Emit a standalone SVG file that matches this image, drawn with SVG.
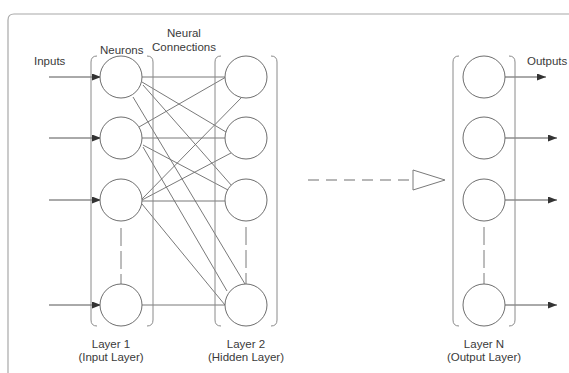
<svg xmlns="http://www.w3.org/2000/svg" width="569" height="373" viewBox="0 0 569 373">
<style>
.neuron{fill:#fff;stroke:#6e6e6e;stroke-width:1}
.bracket{fill:none;stroke:#8a8a8a;stroke-width:1}
.conn{stroke:#6a6a6a;stroke-width:0.9;fill:none}
.dash{stroke:#7a7a7a;stroke-width:1;stroke-dasharray:18 5;fill:none}
.arrow{stroke:#555;stroke-width:1;fill:none;marker-end:url(#ah)}
.lbl{font-family:"Liberation Sans",Arial,sans-serif;font-size:11.5px;fill:#3a3a3a}
.mid{text-anchor:middle}
</style>
<defs>
<marker id="ah" markerUnits="userSpaceOnUse" markerWidth="9" markerHeight="7" refX="9" refY="3.5" orient="auto">
<path d="M0,0 L9,3.5 L0,7 z" fill="#333"/>
</marker>
</defs>
<rect width="569" height="373" fill="#fff"/>
<path id="frame" d="M8,373 V20 Q8,14 14,14 H569" fill="none" stroke="#a8a8a8" stroke-width="1.2"/>

<g id="connectors">
<line class="conn" x1="142" y1="77" x2="225" y2="77"/>
<line class="conn" x1="142" y1="82" x2="226" y2="132"/>
<line class="conn" x1="143" y1="85" x2="232" y2="186"/>
<line class="conn" x1="133" y1="97" x2="245" y2="284"/>
<line class="conn" x1="139" y1="127" x2="226" y2="77"/>
<line class="conn" x1="142" y1="138" x2="225" y2="138"/>
<line class="conn" x1="143" y1="145" x2="228" y2="190"/>
<line class="conn" x1="143" y1="147" x2="227" y2="291"/>
<line class="conn" x1="142" y1="199" x2="242" y2="97"/>
<line class="conn" x1="142" y1="200" x2="231" y2="153"/>
<line class="conn" x1="142" y1="201" x2="225" y2="201"/>
<line class="conn" x1="142" y1="204" x2="225" y2="305"/>
<line class="conn" x1="142" y1="305" x2="225" y2="305"/>
<line class="arrow" x1="49" y1="77" x2="101" y2="77"/>
<line class="arrow" x1="49" y1="138" x2="101" y2="138"/>
<line class="arrow" x1="49" y1="200" x2="101" y2="200"/>
<line class="arrow" x1="49" y1="305" x2="101" y2="305"/>
<line class="arrow" x1="505" y1="77" x2="546" y2="77"/>
<line class="arrow" x1="505" y1="138" x2="557" y2="138"/>
<line class="arrow" x1="505" y1="200" x2="557" y2="200"/>
<line class="arrow" x1="505" y1="305" x2="557" y2="305"/>
<line x1="308" y1="180" x2="413" y2="180" stroke="#a0a0a0" stroke-width="1.5" stroke-dasharray="11 7"/>
<path d="M413,170 L445,180 L413,190 Z" fill="#fff" stroke="#7a7a7a" stroke-width="1" stroke-linejoin="round"/>
</g>

<g id="layer1">
<path class="bracket" d="M97,56 Q91,56 91,62 V320 Q91,326 97,326 M147,56 Q153,56 153,62 V320 Q153,326 147,326"/>
<line class="dash" x1="121" y1="221" x2="121" y2="284" stroke-dashoffset="-1" style="stroke-dasharray:0 6 18 5 18 5 18"/>
<circle class="neuron" cx="121" cy="77" r="21"/>
<circle class="neuron" cx="121" cy="138" r="21"/>
<circle class="neuron" cx="121" cy="200" r="21"/>
<circle class="neuron" cx="121" cy="305" r="21"/>
<text class="lbl mid" x="111" y="348">Layer 1</text>
<text class="lbl mid" x="111" y="361">(Input Layer)</text>
</g>

<g id="layer2">
<path class="bracket" d="M221,56 Q215,56 215,62 V320 Q215,326 221,326 M271,56 Q277,56 277,62 V320 Q277,326 271,326"/>
<line class="dash" x1="246" y1="221" x2="246" y2="284" style="stroke-dasharray:0 6 18 5 18 5 18"/>
<circle class="neuron" cx="246" cy="77" r="21"/>
<circle class="neuron" cx="246" cy="138" r="21"/>
<circle class="neuron" cx="246" cy="200" r="21"/>
<circle class="neuron" cx="246" cy="305" r="21"/>
<text class="lbl mid" x="246" y="348">Layer 2</text>
<text class="lbl mid" x="246" y="361">(Hidden Layer)</text>
</g>

<g id="layerN">
<path class="bracket" d="M459,56 Q453,56 453,62 V320 Q453,326 459,326 M509,56 Q515,56 515,62 V320 Q515,326 509,326"/>
<line class="dash" x1="484" y1="221" x2="484" y2="284" style="stroke-dasharray:0 6 18 5 18 5 18"/>
<circle class="neuron" cx="484" cy="77" r="21"/>
<circle class="neuron" cx="484" cy="138" r="21"/>
<circle class="neuron" cx="484" cy="200" r="21"/>
<circle class="neuron" cx="484" cy="305" r="21"/>
<text class="lbl mid" x="484" y="348">Layer N</text>
<text class="lbl mid" x="484" y="361">(Output Layer)</text>
</g>

<g id="labels">
<text class="lbl" x="34" y="65">Inputs</text>
<text class="lbl" x="100" y="54">Neurons</text>
<text class="lbl mid" x="184" y="37">Neural</text>
<text class="lbl mid" x="184" y="51">Connections</text>
<text class="lbl" x="527" y="65">Outputs</text>
</g>
</svg>
